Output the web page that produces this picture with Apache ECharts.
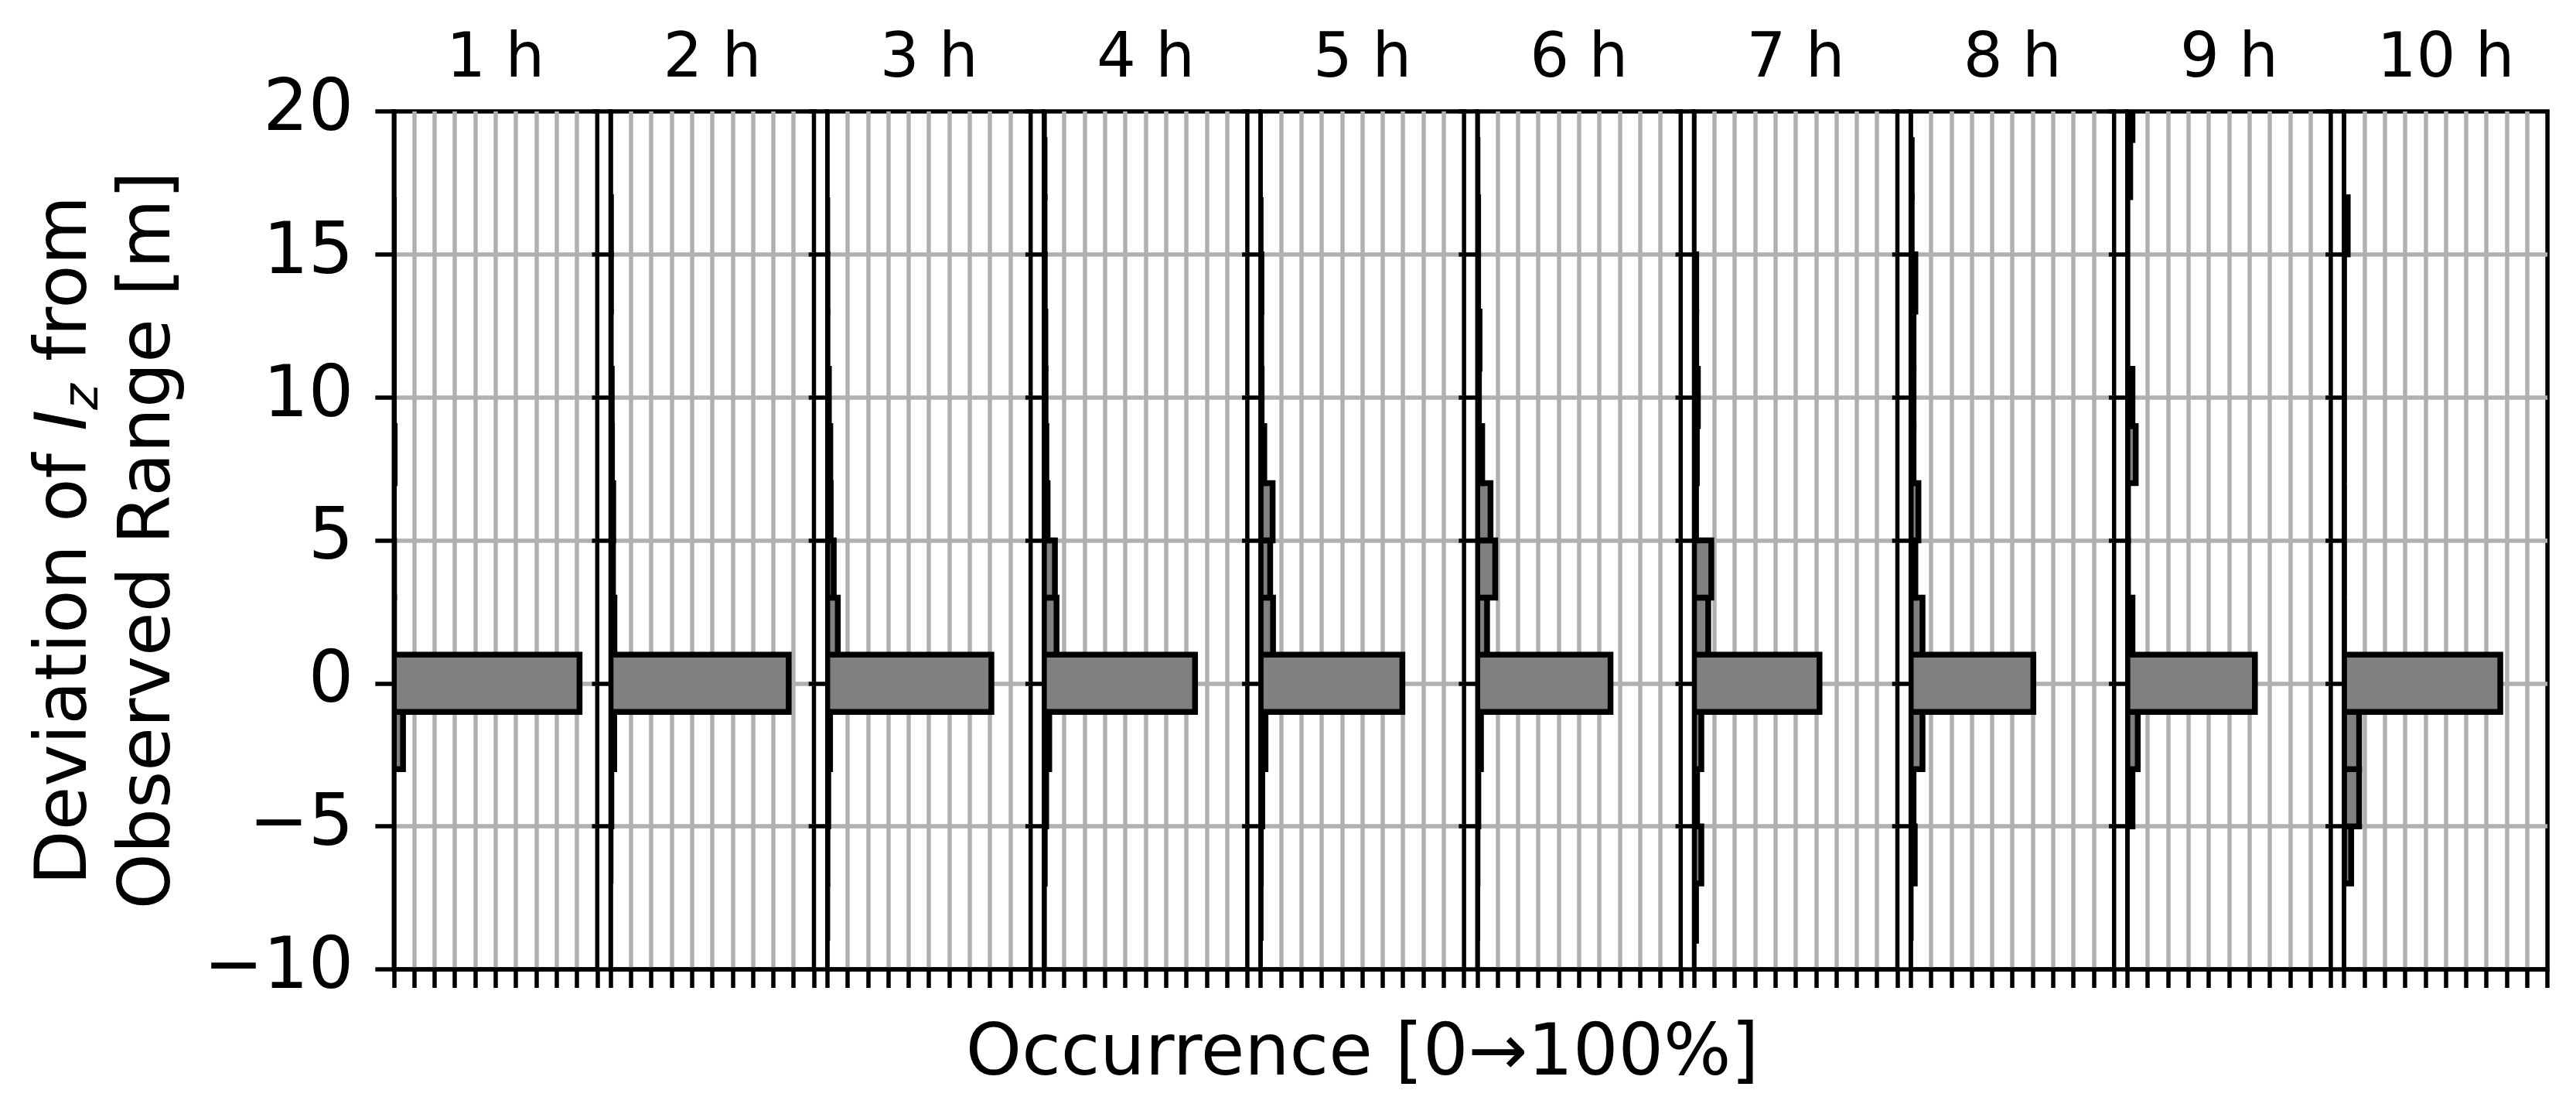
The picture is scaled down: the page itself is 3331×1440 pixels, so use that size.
<!DOCTYPE html>
<html>
<head>
    <meta charset="UTF-8">
    <title>Deviation of Iz from Observed Range</title>
    <script src="https://cdn.jsdelivr.net/npm/echarts@6/dist/echarts.min.js"></script>
    <style>
        html, body { margin: 0; padding: 0; background: #fff; }
        #main { width: 3331px; height: 1440px; }
    </style>
</head>
<body>
<div id="main"></div>
<script type="text/javascript">

    // panel titles (forecast horizon)
    var hourLabels = ['1 h', '2 h', '3 h', '4 h', '5 h', '6 h', '7 h', '8 h', '9 h', '10 h'];
    // histogram bins, 2 m wide, centred on these deviations
    var binCenters = [-10, -8, -6, -4, -2, 0, 2, 4, 6, 8, 10, 12, 14, 16, 18, 20];
    var yTicks = [-10, -5, 0, 5, 10, 15, 20];

    // share of occurrence per bin (0..1), null = bin not drawn
    var occ1h  = [null, null, null, null, 0.045, 0.913, 0.001, 0.001, 0, 0.004, 0, 0, 0, 0, null, null];
    var occ2h  = [null, null, 0, 0.004, 0.018, 0.876, 0.019, 0.012, 0.013, 0.007, 0.006, 0.001, 0.002, 0.002, null, null];
    var occ3h  = [null, 0, 0.001, 0.005, 0.014, 0.807, 0.052, 0.032, 0.017, 0.015, 0.008, 0.001, 0.001, 0, null, null];
    var occ4h  = [0, 0, 0.004, 0.011, 0.026, 0.743, 0.062, 0.054, 0.018, 0.012, 0.008, 0.007, 0.004, 0.003, 0.003, 0];
    var occ5h  = [null, 0, 0.001, 0.008, 0.024, 0.697, 0.061, 0.047, 0.059, 0.018, 0.005, 0.003, 0.004, 0, null, null];
    var occ6h  = [null, 0, 0.001, 0.005, 0.018, 0.655, 0.048, 0.088, 0.065, 0.024, 0.008, 0.011, 0.004, 0.004, 0.001, null];
    var occ7h  = [null, 0.01, 0.036, 0.015, 0.036, 0.617, 0.07, 0.085, 0.01, 0.014, 0.019, 0.011, 0.011, null, null, null];
    var occ8h  = [null, 0, 0.02, 0.014, 0.058, 0.603, 0.058, 0.023, 0.038, 0.014, 0.014, 0.014, 0.023, 0.005, 0.005, null];
    var occ9h  = [null, null, null, 0.025, 0.051, 0.627, 0.025, 0.003, 0.003, 0.041, 0.025, 0, 0, 0, 0.014, 0.025];
    var occ10h = [null, null, 0.035, 0.074, 0.074, 0.768, 0, 0, 0, 0, 0, 0, 0, 0.018, null, null];
    var occurrence = [occ1h, occ2h, occ3h, occ4h, occ5h, occ6h, occ7h, occ8h, occ9h, occ10h];

    // layout (px)
    var panelX0 = 509.3, panelStep = 280.2, panelW = 263, panelTop = 144, panelH = 1109;
    var binWidth = 2;
    var font = 'DejaVu Sans';

    function minusSign(v) {
        return String(v).replace('-', '\u2212');
    }

    function renderBin(params, api) {
        var v = api.value(0), c = api.value(1);
        var p0 = api.coord([0, c + binWidth / 2]);
        var p1 = api.coord([v, c - binWidth / 2]);
        var box = params.coordSys;
        var y0 = Math.max(p0[1], box.y);
        var y1 = Math.min(p1[1], box.y + box.height);
        return {
            type: 'rect',
            shape: {x: p0[0], y: y0, width: p1[0] - p0[0], height: y1 - y0},
            style: {fill: '#808080', stroke: '#000', lineWidth: 7.5}
        };
    }

    var grids = [], xAxes = [], yAxes = [], series = [], texts = [];
    for (var i = 0; i < occurrence.length; i++) {
        var left = panelX0 + i * panelStep;
        grids.push({
            left: left, top: panelTop, width: panelW, height: panelH,
            show: true, borderColor: '#000', borderWidth: 5.5, backgroundColor: 'transparent',
            outerBoundsMode: 'none'
        });
        xAxes.push({
            gridIndex: i, type: 'value', min: 0, max: 1, interval: 0.1,
            axisLine: {show: true, onZero: false, lineStyle: {color: '#000', width: 5.5}},
            axisTick: {show: true, length: 24, lineStyle: {color: '#000', width: 5.5}},
            axisLabel: {show: false},
            splitLine: {show: true, showMinLine: false, showMaxLine: false, lineStyle: {color: '#b0b0b0', width: 5.5}}
        });
        yAxes.push({
            gridIndex: i, type: 'value', min: yTicks[0], max: yTicks[yTicks.length - 1], interval: 5,
            axisLine: {show: true, onZero: false, lineStyle: {color: '#000', width: 5.5}},
            axisTick: {show: true, length: 24, lineStyle: {color: '#000', width: 5.5}},
            axisLabel: {show: i === 0, fontSize: 92, fontFamily: font, color: '#000', margin: 52, formatter: minusSign},
            splitLine: {show: true, showMinLine: false, showMaxLine: false, lineStyle: {color: '#b0b0b0', width: 5.5}}
        });
        var data = [];
        occurrence[i].forEach(function (v, j) {
            if (v !== null) data.push([v, binCenters[j]]);
        });
        series.push({
            type: 'custom', xAxisIndex: i, yAxisIndex: i, clip: true, z: 3,
            encode: {x: 0, y: 1}, data: data, renderItem: renderBin, silent: true
        });
        texts.push({
            type: 'text', x: left + panelW / 2, y: 78,
            style: {
                text: hourLabels[i], font: '80px "DejaVu Sans"', fill: '#000',
                align: 'center', verticalAlign: 'middle', textAlign: 'center', textVerticalAlign: 'middle'
            }
        });
    }

    // shared x label under panel 5
    texts.push({
        type: 'text', x: panelX0 + 4 * panelStep + panelW / 2, y: 1365,
        style: {
            text: 'Occurrence [0\u2192100%]', font: '92px "DejaVu Sans"', fill: '#000',
            align: 'center', verticalAlign: 'middle', textAlign: 'center', textVerticalAlign: 'middle'
        }
    });
    // y label, two lines, rotated
    texts.push({
        type: 'text', x: 141, y: panelTop + panelH / 2, rotation: Math.PI / 2,
        style: {
            text: '{n|Deviation of }{i|I}{s|z}{n| from}\n{n|Observed Range [m]}',
            fontSize: 92, fontFamily: font, fill: '#000',
            align: 'center', verticalAlign: 'middle', textAlign: 'center', textVerticalAlign: 'middle',
            rich: {
                n: {fontSize: 92, fontFamily: font, lineHeight: 108},
                i: {fontSize: 92, fontFamily: font, fontStyle: 'italic', lineHeight: 108},
                s: {fontSize: 64, fontFamily: font, fontStyle: 'italic', lineHeight: 56, verticalAlign: 'bottom'}
            }
        }
    });

    var myChart = echarts.init(document.getElementById('main'), null, {renderer: 'canvas'});
    myChart.setOption({
        animation: false,
        backgroundColor: '#fff',
        grid: grids,
        xAxis: xAxes,
        yAxis: yAxes,
        series: series,
        graphic: texts
    });

</script>
</body>
</html>
